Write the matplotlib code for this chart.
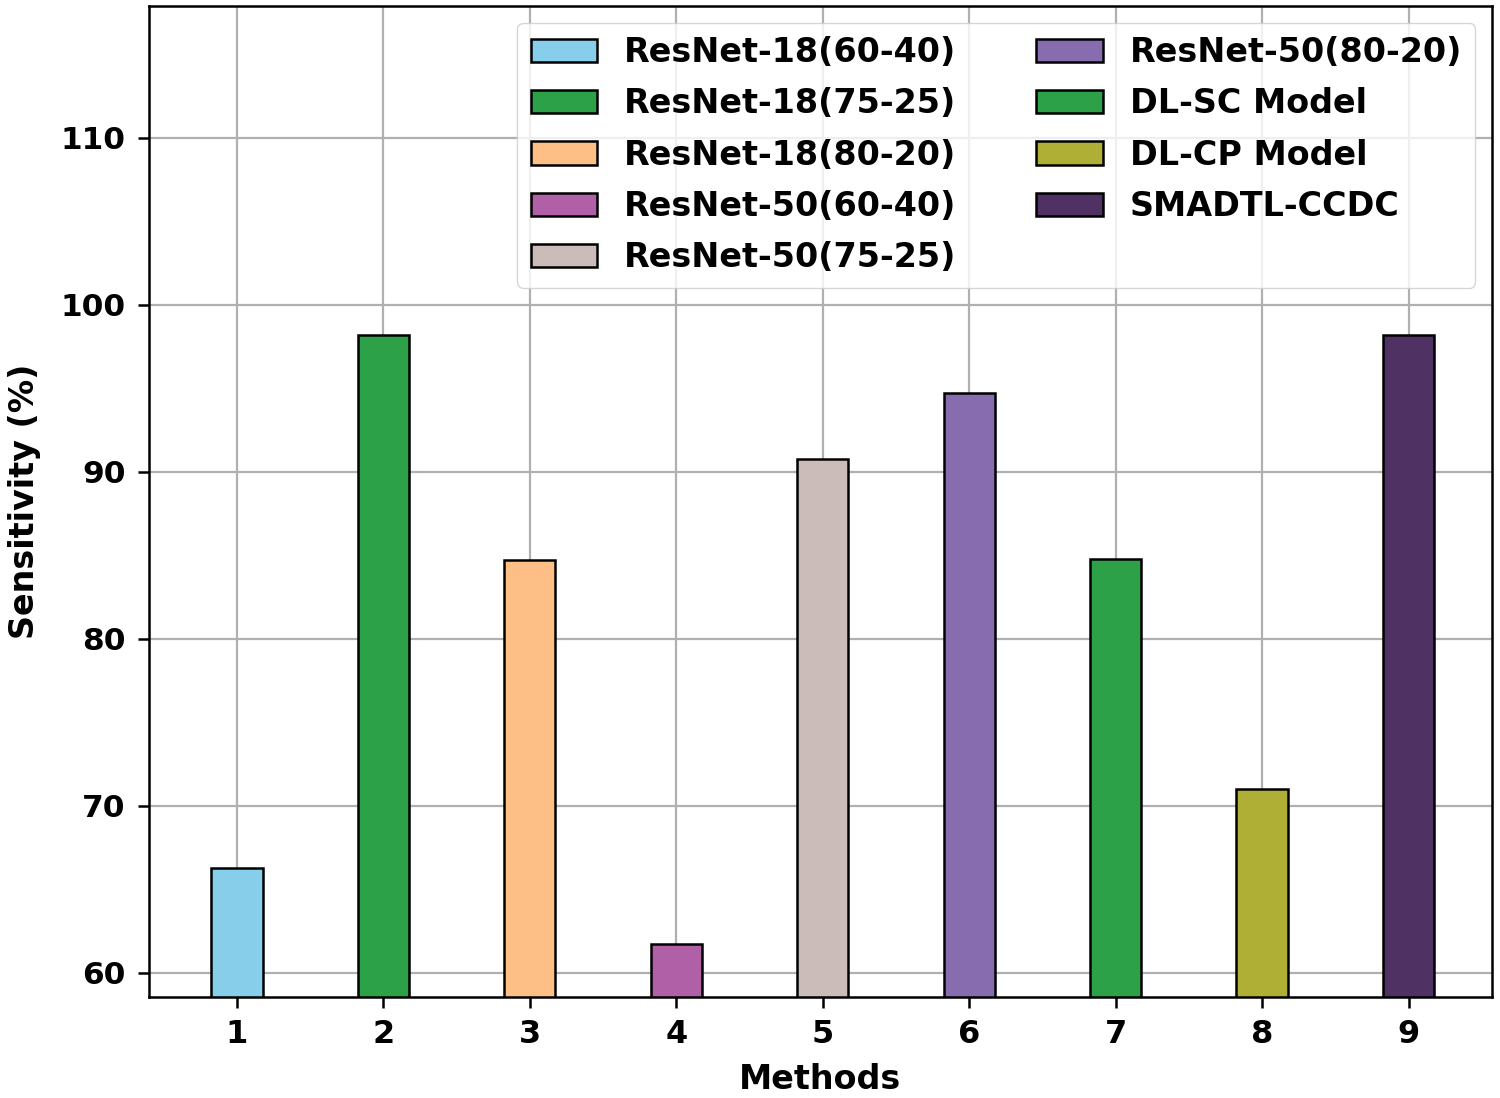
import matplotlib
matplotlib.use("Agg")
import matplotlib.pyplot as plt

methods = [1, 2, 3, 4, 5, 6, 7, 8, 9]
labels = ["ResNet-18(60-40)", "ResNet-18(75-25)", "ResNet-18(80-20)",
          "ResNet-50(60-40)", "ResNet-50(75-25)", "ResNet-50(80-20)",
          "DL-SC Model", "DL-CP Model", "SMADTL-CCDC"]
sensitivity = [66.3, 98.2, 84.7, 61.7, 90.8, 94.7, 84.8, 71.0, 98.2]
colors = ["#87ceeb", "#2ca147", "#fdbf85", "#b060a6", "#cbbcb9",
          "#876db0", "#2ca147", "#afaf35", "#4f3263"]

plt.rcParams['font.family'] = ['DejaVu Sans']
plt.rcParams['font.weight'] = 'bold'

fig = plt.figure(figsize=(15, 10.98), dpi=100)
ax = fig.add_axes([149/1500, 1 - 997/1098, (1492-149)/1500, (997-6)/1098])
ax.set_axisbelow(True)
ax.grid(True, color="#b0b0b0", linewidth=1.6)
for m, v, c, l in zip(methods, sensitivity, colors, labels):
    ax.bar(m, v, width=0.35, color=c, edgecolor="black", linewidth=1.8, label=l)

ax.set_ylim(58.55, 117.9)
ax.set_xlim(0.4, 9.57)
ax.set_xticks(methods)
ax.set_yticks([60, 70, 80, 90, 100, 110])
ax.tick_params(axis='y', labelsize=22.5, width=1.8, length=8, pad=9)
ax.tick_params(axis='x', labelsize=23, width=1.8, length=8, pad=8)
for t in ax.get_xticklabels() + ax.get_yticklabels():
    t.set_fontweight('bold')
for s in ax.spines.values():
    s.set_linewidth(1.8)
ax.set_xlabel("Methods", fontsize=24, fontweight='bold', labelpad=9)
ax.set_ylabel("Sensitivity (%)", fontsize=24, fontweight='bold', labelpad=14)
leg = ax.legend(loc='upper right', ncol=2,
                prop={'weight': 'bold', 'size': 24}, columnspacing=2.4,
                labelspacing=0.55)
fig.savefig("out.png", dpi=100)
